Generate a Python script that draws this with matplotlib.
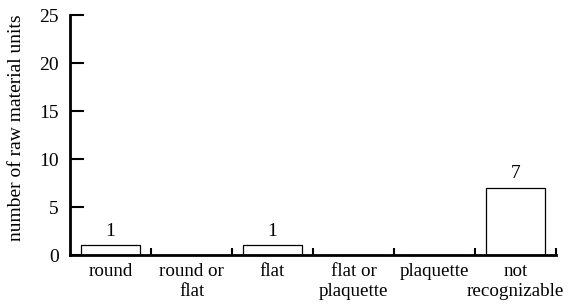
import numpy as np
import matplotlib.pyplot as plt

plt.rcParams['font.family'] = ['Liberation Serif', 'DejaVu Serif']

categories = ['round', 'round or\nflat', 'flat', 'flat or\nplaquette', 'plaquette', 'not\nrecognizable']
counts = [1, 0, 1, 0, 0, 7]

fig = plt.figure(figsize=(5.68, 3.07), dpi=100)
ax = fig.add_axes([70/568, 1 - 255/307, 486/568, 240/307])

x = np.arange(len(categories))
ax.bar(x, counts, width=0.72, color='white', edgecolor='black', linewidth=0.9, zorder=2)
for xi, c in zip(x, counts):
    if c > 0:
        ax.text(xi, c + 0.6, str(c), ha='center', va='bottom', fontsize=14)

ax.set_xlim(-0.5, len(categories) - 0.5)
ax.set_ylim(0, 25)
ax.set_yticks([0, 5, 10, 15, 20, 25])
ax.set_xticks(x + 0.5, minor=False)
ax.set_xticklabels([])
ax.set_xticks(x, minor=True)
ax.set_xticklabels(categories, minor=True, fontsize=13.7, linespacing=1.2)
ax.tick_params(axis='x', which='major', direction='in', length=5, width=1.5)
ax.tick_params(axis='x', which='minor', length=0, pad=6)
ax.tick_params(axis='y', direction='in', length=10, width=1.5, labelsize=14, pad=8)
ax.set_ylabel('number of raw material units', fontsize=14)
ax.yaxis.set_label_coords(-0.093, 0.53)

for s in ['top', 'right']:
    ax.spines[s].set_visible(False)
for s in ['left', 'bottom']:
    ax.spines[s].set_linewidth(2)

fig.savefig('out.png', dpi=100)
